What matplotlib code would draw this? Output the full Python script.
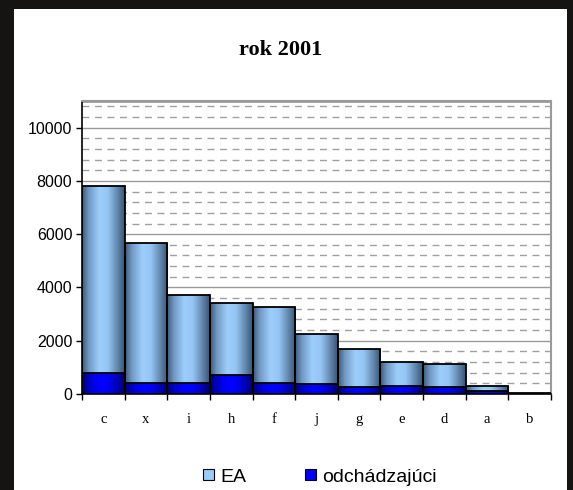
import matplotlib.pyplot as plt
import matplotlib.patches as mpatches
from matplotlib.colors import LinearSegmentedColormap
import numpy as np

# data
categories = ['c', 'x', 'i', 'h', 'f', 'j', 'g', 'e', 'd', 'a', 'b']
ea = [7800, 5670, 3710, 3400, 3280, 2250, 1700, 1220, 1140, 300, 30]
odch = [780, 430, 420, 730, 420, 360, 250, 310, 250, 120, 10]

title = 'rok 2001'
legend_labels = ['EA', 'odchádzajúci']

W, H = 573, 490
fig = plt.figure(figsize=(W / 100, H / 100), dpi=100)
fig.patch.set_facecolor('#151412')
# white panel inside the dark frame
fig.patches.append(mpatches.Rectangle((14 / W, 0), (567 - 14) / W, (490 - 9) / H,
                                      transform=fig.transFigure, facecolor='white',
                                      edgecolor='none', zorder=-10))

ax = fig.add_axes([82 / W, 1 - 394 / H, (551 - 82) / W, (394 - 101) / H])
ax.set_facecolor('white')

# cylinder-like shading, dark edges and light middle
cm_light = LinearSegmentedColormap.from_list('light', [
    (0.0, '#3e5a78'), (0.15, '#6f98c2'), (0.4, '#9ccdfc'),
    (0.6, '#96c6f4'), (0.85, '#5d82a8'), (1.0, '#3a5470')])
cm_blue = LinearSegmentedColormap.from_list('blue', [
    (0.0, '#00006a'), (0.15, '#0000c8'), (0.4, '#0000ff'),
    (0.6, '#0000f8'), (0.85, '#0000b0'), (1.0, '#00005e')])
grad = np.linspace(0, 1, 64).reshape(1, -1)

x = np.arange(len(categories))


def shaded_bars(vals, cmap):
    bars = ax.bar(x, vals, width=1.0, facecolor='none', edgecolor='black',
                  linewidth=1.3, zorder=4)
    for b in bars:
        x0, y0 = b.get_x(), b.get_y()
        im = ax.imshow(grad, cmap=cmap, aspect='auto', zorder=3,
                       extent=[x0, x0 + b.get_width(), y0, y0 + b.get_height()])
        im.set_clip_path(b)
    return bars


shaded_bars(ea, cm_light)
shaded_bars(odch, cm_blue)

ax.set_xlim(-0.5, len(categories) - 0.5)
ax.set_ylim(0, 11000)

# grid
ax.set_yticks(np.arange(0, 10001, 2000))
ax.set_yticks(np.arange(0, 11001, 400), minor=True)
ax.grid(axis='y', which='major', color='#9a9a9a', linewidth=1.0, zorder=1)
ax.grid(axis='y', which='minor', color='#a0a0a0', linewidth=1.0,
        linestyle=(0, (5, 4)), zorder=1)
ax.axhline(11000, color='#9a9a9a', linewidth=2, zorder=2)

ax.set_xticks(x)
ax.set_xticklabels(categories, family='Liberation Serif', fontsize=10.5)
ax.set_xticks(np.arange(-0.5, len(categories)), minor=True)
ax.tick_params(axis='x', which='major', length=0, pad=14)
ax.tick_params(axis='x', which='minor', length=4, width=1, direction='out')
ax.tick_params(axis='y', which='major', length=4, width=1, direction='out', pad=3)
ax.tick_params(axis='y', which='minor', length=0)
for t in ax.get_yticklabels():
    t.set_family('Liberation Sans')
    t.set_fontsize(11.5)

for s in ['left', 'bottom']:
    ax.spines[s].set_color('black')
    ax.spines[s].set_linewidth(1.2)
for s in ['right', 'top']:
    ax.spines[s].set_color('#9a9a9a')
    ax.spines[s].set_linewidth(1.5)

fig.text(281 / W, 1 - 50 / H, title, family='Liberation Serif', fontweight='bold',
         fontsize=16, ha='center', va='center')

handles = [mpatches.Patch(facecolor='#99ccff', edgecolor='black', linewidth=0.8),
           mpatches.Patch(facecolor='#0000ff', edgecolor='black', linewidth=0.8)]
fig.legend(handles, legend_labels, loc='center', bbox_to_anchor=(320 / W, 1 - 477 / H),
           ncol=2, frameon=False, prop={'family': 'Liberation Sans', 'size': 14},
           handlelength=0.55, handleheight=0.55, handletextpad=0.35, columnspacing=3.0)

fig.savefig('out.png', dpi=100, facecolor=fig.get_facecolor())
